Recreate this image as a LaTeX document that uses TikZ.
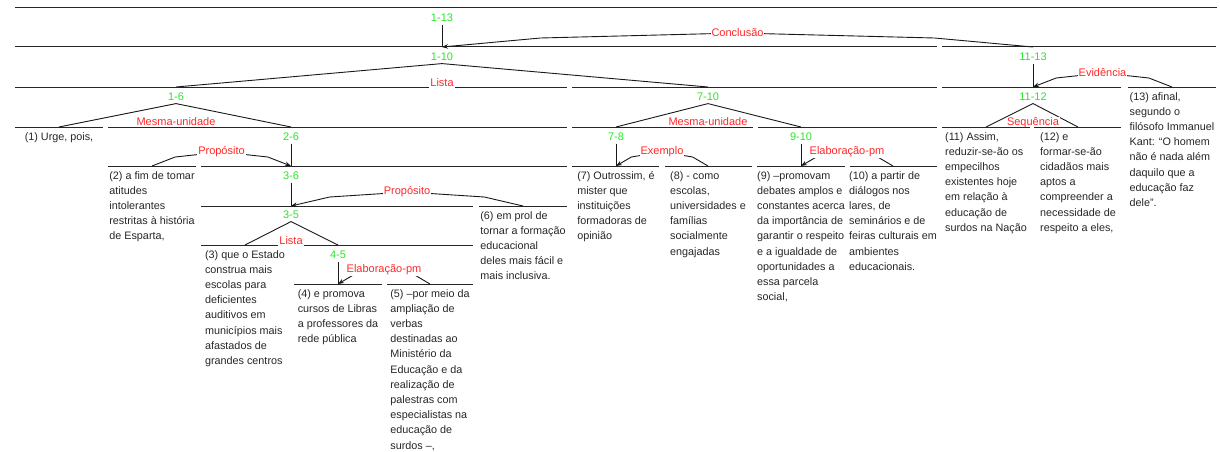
\documentclass[tikz,border=0pt]{standalone}
\usepackage{fontspec}
\setmainfont{Liberation Sans}
\usetikzlibrary{arrows.meta,calc}
\definecolor{spangreen}{RGB}{40,230,40}
\definecolor{relred}{RGB}{255,40,40}
\begin{document}
\begin{tikzpicture}[x=1pt,y=-1pt,
  hline/.style={line width=1pt, black!85},
  conn/.style={line width=0.9pt, black!90},
  satarc/.style={conn, -{Stealth[length=6pt,width=4.5pt]}},
  span/.style={text=spangreen, font=\fontsize{11}{13}\selectfont, inner sep=2.5pt},
  rel/.style={text=relred, font=\fontsize{11}{13}\selectfont, fill=white, inner sep=1pt},
  multirel/.style={rel, anchor=base, text depth=2pt},
  multirelabove/.style={rel, anchor=base, text depth=0pt, inner sep=0.5pt},
  leaf/.style={anchor=north, inner sep=0pt, align=left, font=\fontsize{10.8}{15.2}\selectfont, text=black!85},
]
\useasboundingbox (0,0) rectangle (1220,452);

% ---- span lines, one per node, level by level ----
\draw[hline] (15,8) -- (1217,8);
\draw[hline] (15,47) -- (937,47);
\draw[hline] (942,47) -- (1216,47);
\draw[hline] (15,87) -- (567,87);
\draw[hline] (572,87) -- (937,87);
\draw[hline] (942,87) -- (1121,87);
\draw[hline] (1128,87) -- (1216,87);
\draw[hline] (15,127) -- (103,127);
\draw[hline] (108,127) -- (567,127);
\draw[hline] (572,127) -- (753,127);
\draw[hline] (758,127) -- (937,127);
\draw[hline] (942,127) -- (1030,127);
\draw[hline] (1034,127) -- (1121,127);
\draw[hline] (108,166) -- (196,166);
\draw[hline] (201,166) -- (567,166);
\draw[hline] (572,166) -- (659,166);
\draw[hline] (665,166) -- (752,166);
\draw[hline] (757,166) -- (845,166);
\draw[hline] (850,166) -- (937,166);
\draw[hline] (201,206) -- (473,206);
\draw[hline] (479,206) -- (567,206);
\draw[hline] (201,245) -- (289,245);
\draw[hline] (294,245) -- (473,245);
\draw[hline] (294,284) -- (382,284);
\draw[hline] (387,284) -- (473,284);

% ---- attachment points on top of each span ----
\coordinate (a110) at (442,47);
\coordinate (a1113) at (1033,47);
\coordinate (a16) at (176,87);
\coordinate (a710) at (708,87);
\coordinate (a1112) at (1033,87);
\coordinate (a13) at (1172,87);
\coordinate (a1) at (59,127);
\coordinate (a26) at (291,127);
\coordinate (a78) at (616,127);
\coordinate (a910) at (801,127);
\coordinate (a11) at (986,127);
\coordinate (a12) at (1078,127);
\coordinate (a2) at (152,166);
\coordinate (a36) at (291,166);
\coordinate (a7) at (616,166);
\coordinate (a8) at (708,166);
\coordinate (a9) at (801,166);
\coordinate (a10) at (893,166);
\coordinate (a35) at (291,206);
\coordinate (a6) at (523,206);
\coordinate (a3) at (245,245);
\coordinate (a45) at (338,245);
\coordinate (a4) at (338,284);
\coordinate (a5) at (430,284);

% ---- span labels ----
\node[span] (s113) at (442,18) {1-13};
\node[span] (s110) at (442,57) {1-10};
\node[span] (s1113) at (1033,57) {11-13};
\node[span] (s16) at (176,97) {1-6};
\node[span] (s710) at (708,97) {7-10};
\node[span] (s1112) at (1033,97) {11-12};
\node[span] (s26) at (291,137) {2-6};
\node[span] (s78) at (616,137) {7-8};
\node[span] (s910) at (801,137) {9-10};
\node[span] (s36) at (291,176) {3-6};
\node[span] (s35) at (291,215) {3-5};
\node[span] (s45) at (338,255) {4-5};

% ---- nucleus verticals ----
\draw[conn] (s113.south) -- (a110);
\draw[conn] (s1113.south) -- (a1112);
\draw[conn] (s26.south) -- (a36);
\draw[conn] (s78.south) -- (a7);
\draw[conn] (s910.south) -- (a9);
\draw[conn] (s36.south) -- (a35);
\draw[conn] (s45.south) -- (a4);

% ---- multinuclear fans ----
\draw[conn] (a16) -- (s110.south) -- (a710);
\draw[conn] (a1) -- (s16.south) -- (a26);
\draw[conn] (a78) -- (s710.south) -- (a910);
\draw[conn] (a11) -- (s1112.south) -- (a12);
\draw[conn] (a3) -- (s35.south) -- (a45);
\node[multirel] (rLista) at (442,86) {Lista};
\node[multirelabove] (rMesmaA) at (176,125.5) {Mesma-unidade};
\node[multirelabove] (rMesmaB) at (708,125.5) {Mesma-unidade};
\node[multirelabove] (rSeq) at (1033,125.5) {Sequência};
\node[multirel] (rListaB) at (291,244) {Lista};

% ---- satellite arcs ----
\draw[satarc] (a1113) -- ($(a1113)!1/6!(a110)+(0,-9)$) -- ($(a1113)!0.5!(a110)+(0,-14)$) -- ($(a110)!1/6!(a1113)+(0,-9)$) -- (a110);
\node[rel] (rConc) at ($(a1113)!0.5!(a110)+(0,-14)$) {Conclusão};
\draw[satarc] (a13) -- ($(a13)!1/6!(a1112)+(0,-9)$) -- ($(a13)!0.5!(a1112)+(0,-14)$) -- ($(a1112)!1/6!(a13)+(0,-9)$) -- (a1112);
\node[rel] (rEvid) at ($(a13)!0.5!(a1112)+(0,-14)$) {Evidência};
\draw[satarc] (a2) -- ($(a2)!1/6!(a36)+(0,-9)$) -- ($(a2)!0.5!(a36)+(0,-14)$) -- ($(a36)!1/6!(a2)+(0,-9)$) -- (a36);
\node[rel] (rPropA) at ($(a2)!0.5!(a36)+(0,-14)$) {Propósito};
\draw[satarc] (a6) -- ($(a6)!1/6!(a35)+(0,-9)$) -- ($(a6)!0.5!(a35)+(0,-14)$) -- ($(a35)!1/6!(a6)+(0,-9)$) -- (a35);
\node[rel] (rPropB) at ($(a6)!0.5!(a35)+(0,-14)$) {Propósito};
\draw[satarc] (a5) -- ($(a5)!1/6!(a4)+(0,-9)$) -- ($(a5)!0.5!(a4)+(0,-14)$) -- ($(a4)!1/6!(a5)+(0,-9)$) -- (a4);
\node[rel] (rElabA) at ($(a5)!0.5!(a4)+(0,-14)$) {Elaboração-pm};
\draw[satarc] (a8) -- ($(a8)!1/6!(a7)+(0,-9)$) -- ($(a8)!0.5!(a7)+(0,-14)$) -- ($(a7)!1/6!(a8)+(0,-9)$) -- (a7);
\node[rel] (rExem) at ($(a8)!0.5!(a7)+(0,-14)$) {Exemplo};
\draw[satarc] (a10) -- ($(a10)!1/6!(a9)+(0,-9)$) -- ($(a10)!0.5!(a9)+(0,-14)$) -- ($(a9)!1/6!(a10)+(0,-9)$) -- (a9);
\node[rel] (rElabB) at ($(a10)!0.5!(a9)+(0,-14)$) {Elaboração-pm};

% ---- elementary discourse units ----
\node[leaf] (x1) at (59,132) {(1) Urge, pois,};
\node[leaf] (x2) at (152,171) {(2) a fim de tomar\\atitudes\\intolerantes\\restritas à história\\de Esparta,};
\node[leaf] (x3) at (245,250) {(3) que o Estado\\construa mais\\escolas para\\deficientes\\auditivos em\\municípios mais\\afastados de\\grandes centros};
\node[leaf] (x4) at (338,289) {(4) e promova\\cursos de Libras\\a professores da\\rede pública};
\node[leaf] (x5) at (430,289) {(5) –por meio da\\ampliação de\\verbas\\destinadas ao\\Ministério da\\Educação e da\\realização de\\palestras com\\especialistas na\\educação de\\surdos –,};
\node[leaf] (x6) at (523,211) {(6) em prol de\\tornar a formação\\educacional\\deles mais fácil e\\mais inclusiva.};
\node[leaf] (x7) at (616,171) {(7) Outrossim, é\\mister que\\instituições\\formadoras de\\opinião};
\node[leaf] (x8) at (708,171) {(8) - como\\escolas,\\universidades e\\famílias\\socialmente\\engajadas};
\node[leaf] (x9) at (801,171) {(9) –promovam\\debates amplos e\\constantes acerca\\da importância de\\garantir o respeito\\e a igualdade de\\oportunidades a\\essa parcela\\social,};
\node[leaf] (x10) at (893,171) {(10) a partir de\\diálogos nos\\lares, de\\seminários e de\\feiras culturais em\\ambientes\\educacionais.};
\node[leaf] (x11) at (986,132) {(11) Assim,\\reduzir-se-ão os\\empecilhos\\existentes hoje\\em relação à\\educação de\\surdos na Nação};
\node[leaf] (x12) at (1078,132) {(12) e\\formar-se-ão\\cidadãos mais\\aptos a\\compreender a\\necessidade de\\respeito a eles,};
\node[leaf] (x13) at (1172,92) {(13) afinal,\\segundo o\\filósofo Immanuel\\Kant: “O homem\\não é nada além\\daquilo que a\\educação faz\\dele”.};
\end{tikzpicture}
\end{document}
